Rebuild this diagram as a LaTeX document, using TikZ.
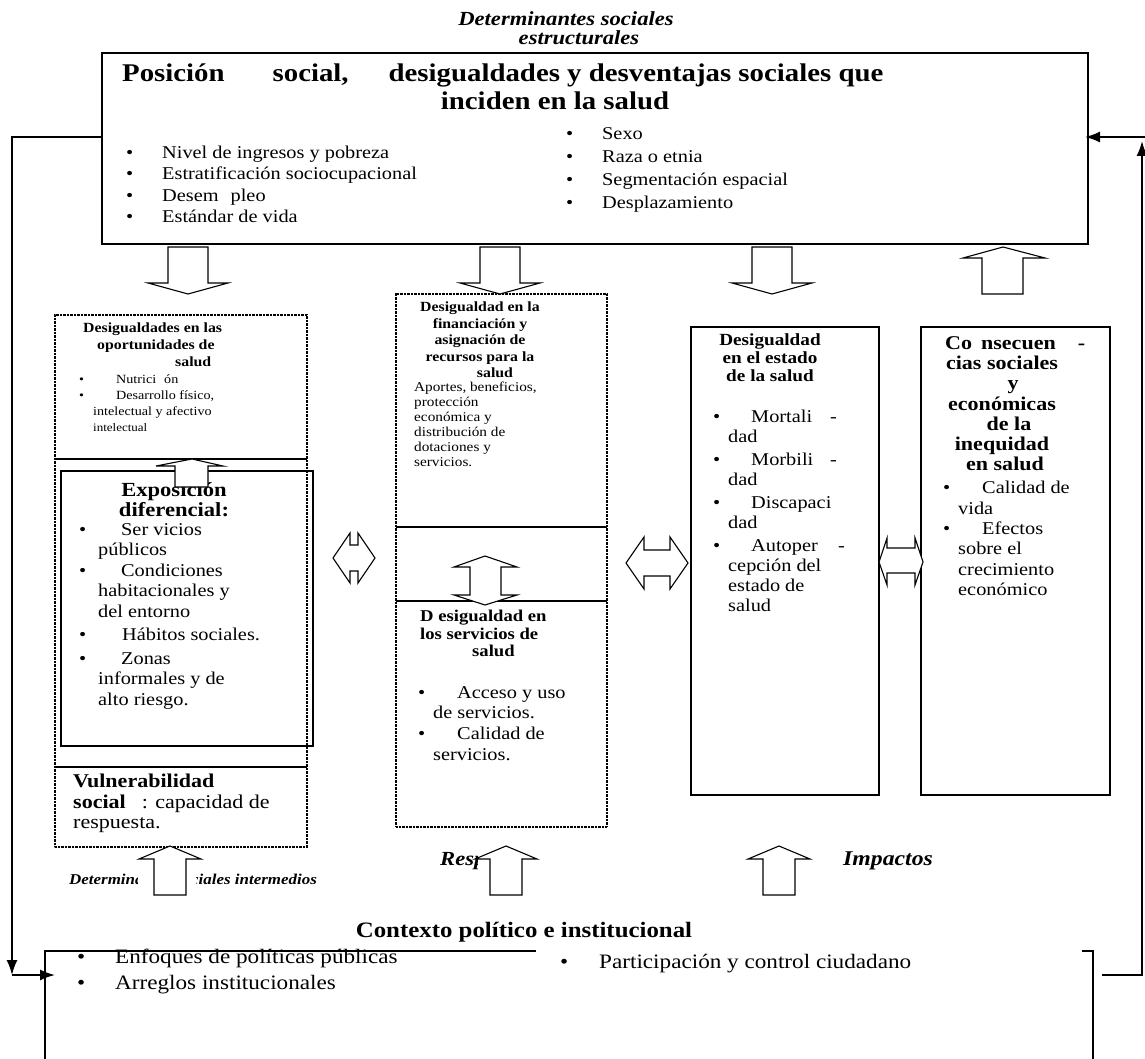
\documentclass[tikz,border=0pt]{standalone}
\usepackage{fontspec}
\setmainfont{Liberation Serif}[FakeStretch=1.13]
\usetikzlibrary{arrows.meta}
\newcommand{\setfs}[2]{\fontsize{#1}{#2}\selectfont}
\begin{document}
\begin{tikzpicture}[x=1pt,y=-1pt,
    box/.style={draw,line width=1.1pt,inner sep=0pt,outer sep=0pt},
    dotbox/.style={draw,line width=1.7pt,dash pattern=on 0.8pt off 0.6pt,inner sep=0pt,outer sep=0pt},
    divline/.style={line width=1.1pt},
    txt/.style={inner sep=0pt,align=left,anchor=north west},
    ctr/.style={inner sep=0pt,align=center,anchor=north},
    blockarrow/.style={draw,fill=white,line width=1.1pt,line join=miter},
    fb/.style={line width=1.7pt,-{Latex[length=15pt,width=11pt]}}]
                \fill[white] (0,0) rectangle (1145,1059);
                \useasboundingbox (0,0) rectangle (1145,1059);
                \node[box,minimum width=986pt,minimum height=191pt] (estruct) at (595,148.5) {};
                \node[dotbox,minimum width=252pt,minimum height=532pt] (oppbox) at (181,581) {};
                \node[box,minimum width=252pt,minimum height=275pt] (expbox) at (187,608.5) {};
                \node[dotbox,minimum width=211pt,minimum height=533pt] (finbox) at (501.5,560.5) {};
                \node[box,minimum width=188pt,minimum height=468pt] (edobox) at (785,561) {};
                \node[box,minimum width=189pt,minimum height=468pt] (cnsbox) at (1015.5,561) {};
                \draw[divline] (oppbox.west |- 0,459) -- (oppbox.east |- 0,459);
                \draw[divline] (oppbox.west |- 0,767) -- (oppbox.east |- 0,767);
                \draw[divline] (finbox.west |- 0,527) -- (finbox.east |- 0,527);
                \draw[divline] (finbox.west |- 0,601) -- (finbox.east |- 0,601);
                \draw[divline] (45,1059) -- (45,951) -- (536,951);
                \draw[divline] (1082,951) -- (1093,951) -- (1093,1059);
                \node[font=\setfs{20}{22}\bfseries\itshape,anchor=base] (hdra) at (566,26) {Determinantes sociales};
                \node[font=\setfs{20}{22}\bfseries\itshape,anchor=base] (hdrb) at (579,45) {estructurales};
                \node[font=\setfs{25.5}{27}\bfseries,anchor=base west,inner sep=0pt] (ttla) at (122,82) {Posición\hspace{48pt}social,\hspace{40pt}desigualdades y desventajas sociales que};
                \node[font=\setfs{25.5}{27}\bfseries,anchor=base,inner sep=0pt] (ttlb) at (555,110) {inciden en la salud};
                \node[txt,font=\setfs{18}{21.3}] (lsta) at (126,146) {\rlap{\textbullet}\hspace*{36pt}Nivel de ingresos y pobreza\\\rlap{\textbullet}\hspace*{36pt}Estratificación sociocupacional\\\rlap{\textbullet}\hspace*{36pt}Desem\hspace{12pt}pleo\\\rlap{\textbullet}\hspace*{36pt}Estándar de vida};
                \node[txt,font=\setfs{18}{23}] (lstb) at (566,127) {\rlap{\textbullet}\hspace*{36pt}Sexo\\\rlap{\textbullet}\hspace*{36pt}Raza o etnia\\\rlap{\textbullet}\hspace*{36pt}Segmentación espacial\\\rlap{\textbullet}\hspace*{36pt}Desplazamiento};
                \node[txt,font=\setfs{14}{17}\bfseries] (oppt) at (83,323) {Desigualdades en las\\\hspace*{14pt}oportunidades de\\\hspace*{92pt}salud};
                \node[txt,font=\setfs{12.5}{16}] (oppl) at (79,375) {\rlap{\textbullet}\hspace*{37pt}Nutrici\hspace{8pt}ón\\\rlap{\textbullet}\hspace*{37pt}Desarrollo físico,\\\hspace*{14pt}intelectual y afectivo\\\hspace*{14pt}{\setfs{11.5}{16}intelectual}};
                \node[ctr,font=\setfs{20}{20}\bfseries] (expt) at (174,482) {Exposición\\diferencial:};
                \node[txt,font=\setfs{18}{20.5}] (expl) at (79,523) {\rlap{\textbullet}\hspace*{42pt}Ser vicios\\\hspace*{19pt}públicos\\\rlap{\textbullet}\hspace*{42pt}Condiciones\\\hspace*{19pt}habitacionales y\\\hspace*{19pt}del entorno\\[3pt]\rlap{\textbullet}\hspace*{43pt}Hábitos sociales.\\[3pt]\rlap{\textbullet}\hspace*{42pt}Zonas\\\hspace*{19pt}informales y de\\\hspace*{19pt}alto riesgo.};
                \node[txt,font=\setfs{19.5}{20.5}] (vuln) at (73,774) {\textbf{Vulnerabilidad}\\\textbf{social}\hspace{16pt}: capacidad de\\respuesta.};
                \node[ctr,font=\setfs{14}{16.5}\bfseries] (fint) at (480,302) {Desigualdad en la\\financiación y\\asignación de\\recursos para la\\\hspace*{30pt}salud};
                \node[txt,font=\setfs{13.5}{15}] (finl) at (414,382) {Aportes, beneficios,\\protección\\económica y\\distribución de\\dotaciones y\\servicios.};
                \node[txt,font=\setfs{16.5}{17.5}\bfseries] (svct) at (420,610) {D esigualdad en\\los servicios de\\\hspace*{52pt}salud};
                \node[txt,font=\setfs{18}{20.7}] (svcl) at (418,686) {\rlap{\textbullet}\hspace*{39pt}Acceso y uso\\\hspace*{15pt}de servicios.\\\rlap{\textbullet}\hspace*{39pt}Calidad de\\\hspace*{15pt}servicios.};
                \node[ctr,font=\setfs{17}{18}\bfseries] (edot) at (770,334) {Desigualdad\\en el estado\\de la salud};
                \node[txt,font=\setfs{18}{20}] (edol) at (713,410) {\rlap{\textbullet}\hspace*{38pt}\makebox[79pt][l]{Mortali}-\\\hspace*{15pt}dad\\[3pt]\rlap{\textbullet}\hspace*{38pt}\makebox[79pt][l]{Morbili}-\\\hspace*{15pt}dad\\[3pt]\rlap{\textbullet}\hspace*{38pt}Discapaci\\\hspace*{15pt}dad\\[3pt]\rlap{\textbullet}\hspace*{38pt}\makebox[87pt][l]{Autoper}-\\\hspace*{15pt}cepción del\\\hspace*{15pt}estado de\\\hspace*{15pt}salud};
                \node[font=\setfs{19.5}{20}\bfseries,anchor=base west,inner sep=0pt] (cnsa) at (945,349) {Co\hspace{9pt}nsecuen\hspace{22pt}-};
                \node[ctr,font=\setfs{19.5}{20.2}\bfseries] (cnsb) at (1002,356) {cias sociales\\\hspace*{22pt}y\\económicas\\\hspace*{14pt}de la\\inequidad\\\hspace*{6pt}en salud};
                \node[txt,font=\setfs{18}{20.4}] (cnsl) at (943,481) {\rlap{\textbullet}\hspace*{39pt}Calidad de\\\hspace*{15pt}vida\\\rlap{\textbullet}\hspace*{39pt}Efectos\\\hspace*{15pt}sobre el\\\hspace*{15pt}crecimiento\\\hspace*{15pt}económico};
                \node[font=\setfs{22}{24}\bfseries,anchor=base,inner sep=0pt] (ctxt) at (524,937) {Contexto político e institucional};
                \node[txt,font=\setfs{20.5}{26}] (ctxl) at (77,949) {\rlap{\textbullet}\hspace*{38pt}Enfoques de políticas públicas\\\rlap{\textbullet}\hspace*{38pt}Arreglos institucionales};
                \node[font=\setfs{20.5}{26},anchor=base west,inner sep=0pt] (ctxr) at (560,968) {\rlap{\textbullet}\hspace*{39pt}Participación y control ciudadano};
                \node[font=\setfs{15}{16}\bfseries\itshape,anchor=base west,inner sep=0pt] (detint) at (69,884) {Determinantes sociales intermedios};
                \node[font=\setfs{20}{22}\bfseries\itshape,anchor=base west,inner sep=0pt] (resp) at (440,865) {Respuestas};
                \node[font=\setfs{21}{22}\bfseries\itshape,anchor=base west,inner sep=0pt] (impc) at (843,865) {Impactos};
                \fill[white] (138,867) rectangle (196,893);
                \fill[white] (478,846) rectangle (550,872);
                \foreach \ax in {188,500,772}{
                    \draw[blockarrow] ({\ax-20},247) -- ({\ax+20},247) -- ({\ax+20},283) -- ({\ax+40},283) -- (\ax,294) -- ({\ax-40},283) -- ({\ax-20},283) -- cycle;
                }
                \draw[blockarrow] (982,294) -- (982,258) -- (963,258) -- (1003,247) -- (1045,258) -- (1023,258) -- (1023,294) -- cycle;
                \foreach \ax in {170,506,779}{
                    \draw[blockarrow] ({\ax-16},895) -- ({\ax-16},859) -- ({\ax-31},859) -- (\ax,846) -- ({\ax+31},859) -- ({\ax+16},859) -- ({\ax+16},895) -- cycle;
                }
                \draw[blockarrow] (175,487) -- (175,466) -- (156,466) -- (192,459) -- (223,466) -- (208,466) -- (208,487) -- cycle;
                \draw[blockarrow] (470,567) -- (454,567) -- (485,556) -- (517,567) -- (501,567) -- (501,595) -- (517,595) -- (485,605) -- (454,595) -- (470,595) -- cycle;
                \draw[blockarrow] (333,558) -- (350,533) -- (350,545) -- (358,545) -- (358,533) -- (375,558) -- (358,583) -- (358,571) -- (350,571) -- (350,583) -- cycle;
                \draw[blockarrow] (626,563) -- (644,537) -- (644,550) -- (670,550) -- (670,537) -- (688,563) -- (670,589) -- (670,576) -- (644,576) -- (644,589) -- cycle;
                \draw[blockarrow] (879,562) -- (887,538) -- (887,548) -- (915,548) -- (915,538) -- (923,562) -- (915,585) -- (915,573) -- (887,573) -- (887,585) -- cycle;
                \coordinate (fbl) at (12,975);
                \coordinate (ctxin) at (55,975);
                \coordinate (ctxout) at (1102,975);
                \coordinate (fbr) at (1142,975);
                \coordinate (fbrtop) at (1142,141);
                \coordinate (fbrin) at (1146,137);
                \draw[fb] ([yshift=11.5pt]estruct.west) -| (fbl);
                \draw[fb] (fbl) -- (ctxin);
                \draw[fb] (ctxout) -- (fbr) -- (fbrtop);
                \draw[fb] (fbrin) -- ([yshift=11.5pt,xshift=-3pt]estruct.east);
            \end{tikzpicture}
\end{document}
